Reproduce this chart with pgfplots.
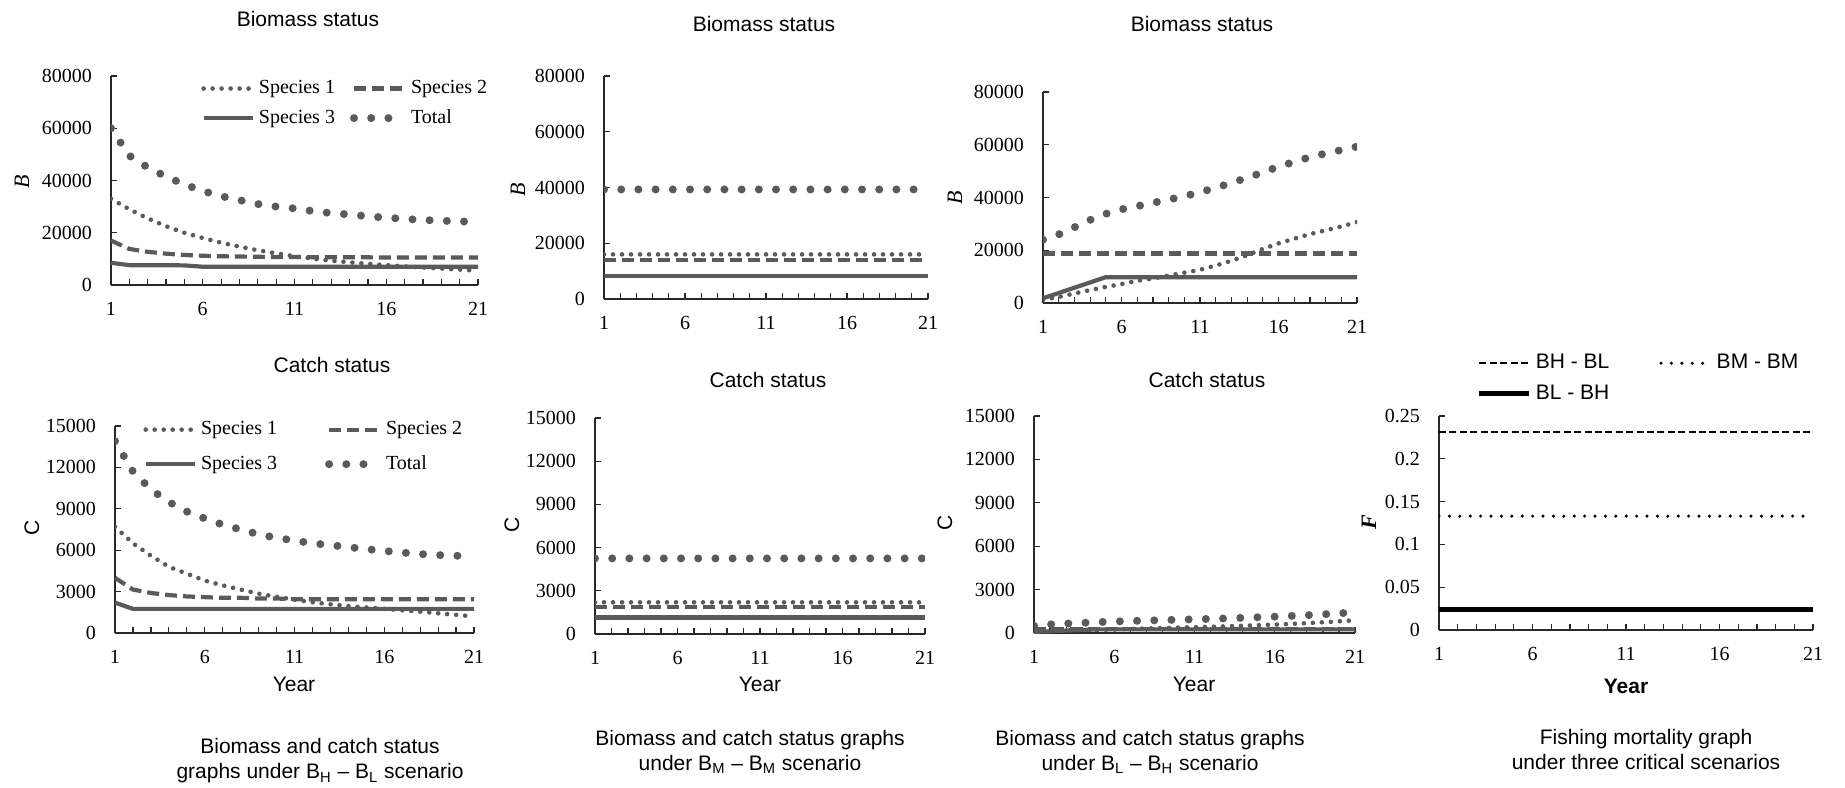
\documentclass[border=0pt]{standalone}
\usepackage{pgfplots}
\pgfplotsset{compat=1.18}
\usepackage{pgfplotstable}
\usepackage{fontspec}
\setmainfont{Liberation Serif}
\newfontfamily\sansf{Liberation Sans}
\newcommand\tkf{\fontsize{10}{12}\selectfont}
\newcommand\ssz{\sansf\fontsize{10.5}{12.5}\selectfont}
\definecolor{sg}{RGB}{90,90,90}
\definecolor{axc}{RGB}{40,40,40}

\pgfplotstableread{
x S1 S2 S3 T
1 33000 17000 8500 60000
2 29000 13800 7600 49500
3 25500 12700 7600 45000
4 22500 12000 7600 41500
5 20000 11500 7500 38500
6 18000 11200 7000 36000
7 16200 11000 7000 34000
8 14700 10900 7000 32500
9 13300 10800 7000 31000
10 12100 10700 7000 30000
11 11000 10700 7000 29300
12 10100 10600 7000 28300
13 9300 10600 7000 27500
14 8700 10600 7000 27000
15 8100 10600 7000 26300
16 7600 10500 7000 25800
17 7100 10500 7000 25300
18 6700 10500 7000 24900
19 6300 10500 7000 24600
20 5900 10500 7000 24400
21 5500 10500 7000 24000
}\bioA
\pgfplotstableread{
x S1 S2 S3 T
1 7700 4000 2200 13900
2 6500 3150 1750 11700
3 5600 2900 1750 10400
4 4800 2750 1750 9500
5 4300 2650 1750 8800
6 3800 2600 1750 8300
7 3450 2550 1750 7850
8 3150 2550 1750 7500
9 2850 2500 1750 7150
10 2620 2500 1750 6900
11 2420 2450 1750 6700
12 2230 2450 1750 6500
13 2080 2450 1750 6370
14 1950 2450 1750 6220
15 1850 2450 1750 6080
16 1750 2450 1750 5950
17 1650 2450 1750 5830
18 1550 2450 1750 5720
19 1430 2450 1750 5650
20 1320 2450 1750 5600
21 1200 2450 1750 5580
}\catA
\pgfplotstableread{
x S1 S2 S3 T
1 16000 14000 8200 39300
21 16000 14000 8200 39300
}\bioB
\pgfplotstableread{
x S1 S2 S3 T
1 2200 1900 1150 5250
21 2200 1900 1150 5250
}\catB
\pgfplotstableread{
x S1 S2 S3 T
1 1200 18800 1800 24000
2 2300 18800 3800 26000
3 3600 18800 5800 28700
4 4900 18800 7800 31500
5 6100 18800 9800 33800
6 7200 18800 9800 35500
7 8400 18800 9800 36700
8 9300 18800 9800 38000
9 10400 18800 9800 39200
10 11500 18800 9800 40500
11 12600 18800 9800 42000
12 14200 18800 9800 43700
13 16000 18800 9800 45500
14 18100 18800 9800 47500
15 20500 18800 9800 49500
16 22600 18800 9800 51700
17 24400 18800 9800 53500
18 26100 18800 9800 55300
19 27600 18800 9800 56700
20 29000 18800 9800 58000
21 30700 18800 9800 59300
}\bioC
\pgfplotstableread{
x S1 S2 S3 T
1 120 300 80 500
2 180 300 120 600
3 180 300 170 650
4 190 300 210 700
5 200 300 250 750
6 250 300 250 800
7 280 300 250 830
8 310 300 250 860
9 340 300 250 890
10 370 300 250 920
11 400 300 250 950
12 430 300 250 980
13 460 300 250 1010
14 500 300 250 1050
15 540 300 250 1090
16 580 300 250 1130
17 630 300 250 1180
18 680 300 250 1230
19 740 300 250 1290
20 810 300 250 1360
21 880 300 250 1430
}\catC
\pgfplotstableread{
x HL MM LH
1 0.231 0.133 0.024
21 0.231 0.133 0.024
}\Fdat

\pgfplotsset{
  base/.style={
    scale only axis, axis lines=left,
    axis line style={-, draw=axc, line width=0.8pt},
    xmin=1, xmax=21, xtick={1,6,11,16,21}, xticklabels={1,6,11,16,21},
    minor xtick={1,...,21},
    major tick length=3.2pt, minor tick length=3.2pt,
    tick style={draw=axc, line width=0.6pt},
    tick align=inside,
    ticklabel style={font=\tkf},
    xticklabel style={yshift=-5pt},
    yticklabel style={xshift=-6pt},
    anchor=south west,
    scaled ticks=false,
    /pgf/number format/assume math mode=true,
  },
  s1/.style={sg, mark=none, line width=2.3pt, line cap=round, dash pattern=on 0pt off 4.5pt},
  s2/.style={sg, mark=none, line width=2.1pt, dash pattern=on 6pt off 3pt},
  s3/.style={sg, mark=none, line width=2.1pt},
  tot/.style={sg, mark=none, line width=4pt, line cap=round, dash pattern=on 0pt off 8.6pt},
  bio/.style={base, ymin=0, ymax=80000, ytick={0,20000,40000,60000,80000},
    yticklabels={0,20000,40000,60000,80000}},
  cat/.style={base, ymin=0, ymax=15000, ytick={0,3000,6000,9000,12000,15000},
    yticklabels={0,3000,6000,9000,12000,15000}},
}

\begin{document}
\begin{tikzpicture}
\useasboundingbox (0,0) rectangle (922.5pt,-393.5pt);

% Panel 1 biomass
\begin{axis}[bio, at={(55.5pt,-142.5pt)}, width=183.5pt, height=104.5pt,
  legend columns=2, legend cell align=left,
  legend image code/.code={\draw[#1] (0pt,0pt) -- (24.5pt,0pt);},
  legend style={at={(rel axis cs:0.245,1.0)}, anchor=north west, draw=none, fill=none,
    inner sep=0pt, font=\tkf, row sep=2.5pt,
    /tikz/every even column/.append style={column sep=5.5pt}}]
\addplot[s1] table[x=x,y=S1]{\bioA}; \addlegendentry{Species 1}
\addplot[s2] table[x=x,y=S2]{\bioA}; \addlegendentry{Species 2}
\addplot[s3] table[x=x,y=S3]{\bioA}; \addlegendentry{Species 3}
\addplot[tot] table[x=x,y=T]{\bioA}; \addlegendentry{Total}
\end{axis}

% Panel 1 catch
\begin{axis}[cat, at={(57.5pt,-316.5pt)}, width=179.5pt, height=103.5pt,
  legend columns=2, legend cell align=left,
  legend image code/.code={\draw[#1] (0pt,0pt) -- (24.5pt,0pt);},
  legend style={at={(rel axis cs:0.078,1.043)}, anchor=north west, draw=none, fill=none,
    inner sep=0pt, font=\tkf, row sep=5pt,
    /tikz/every even column/.append style={column sep=22pt}}]
\addplot[s1] table[x=x,y=S1]{\catA}; \addlegendentry{Species 1}
\addplot[s2] table[x=x,y=S2]{\catA}; \addlegendentry{Species 2}
\addplot[s3] table[x=x,y=S3]{\catA}; \addlegendentry{Species 3}
\addplot[tot] table[x=x,y=T]{\catA}; \addlegendentry{Total}
\end{axis}

% Panel 2 biomass
\begin{axis}[bio, at={(302pt,-149.5pt)}, width=162pt, height=111.5pt]
\addplot[s1] table[x=x,y=S1]{\bioB};
\addplot[s2] table[x=x,y=S2]{\bioB};
\addplot[s3] table[x=x,y=S3]{\bioB};
\addplot[tot] table[x=x,y=T]{\bioB};
\end{axis}

% Panel 2 catch
\begin{axis}[cat, at={(297.5pt,-317pt)}, width=165pt, height=108pt]
\addplot[s1] table[x=x,y=S1]{\catB};
\addplot[s2] table[x=x,y=S2]{\catB};
\addplot[s3] table[x=x,y=S3]{\catB};
\addplot[tot] table[x=x,y=T]{\catB};
\end{axis}

% Panel 3 biomass
\begin{axis}[bio, at={(521.5pt,-151.5pt)}, width=157pt, height=105.5pt]
\addplot[s1] table[x=x,y=S1]{\bioC};
\addplot[s2] table[x=x,y=S2]{\bioC};
\addplot[s3] table[x=x,y=S3]{\bioC};
\addplot[tot] table[x=x,y=T]{\bioC};
\end{axis}

% Panel 3 catch
\begin{axis}[cat, at={(517pt,-316.5pt)}, width=160.5pt, height=108.5pt]
\addplot[s1] table[x=x,y=S1]{\catC};
\addplot[s2] table[x=x,y=S2]{\catC};
\addplot[s3] table[x=x,y=S3]{\catC};
\addplot[tot] table[x=x,y=T]{\catC};
\end{axis}

% Panel 4 fishing mortality
\begin{axis}[base, at={(719.5pt,-315pt)}, width=187pt, height=107pt,
  ymin=0, ymax=0.25, ytick={0,0.05,0.1,0.15,0.2,0.25},
  yticklabels={0,0.05,0.1,0.15,0.2,0.25},
  legend columns=2, legend cell align=left,
  legend image code/.code={\draw[#1] (0pt,0pt) -- (25pt,0pt);},
  legend style={at={(rel axis cs:0.10,1.308)}, anchor=north west, draw=none, fill=none,
    inner sep=0pt, font=\ssz, row sep=2.5pt,
    /tikz/every even column/.append style={column sep=23pt}}]
\addplot[black, mark=none, line width=1.2pt, dash pattern=on 3.5pt off 1.7pt] table[x=x,y=HL]{\Fdat};
\addlegendentry{BH - BL}
\addplot[black, mark=none, line width=1.7pt, line cap=round, dash pattern=on 0pt off 5.2pt] table[x=x,y=MM]{\Fdat};
\addlegendentry{BM - BM}
\addplot[black, mark=none, line width=2.5pt] table[x=x,y=LH]{\Fdat};
\addlegendentry{BL - BH}
\end{axis}

% titles
\node[font=\ssz] at (154pt,-9.5pt) {Biomass status};
\node[font=\ssz] at (382pt,-12pt) {Biomass status};
\node[font=\ssz] at (601pt,-12pt) {Biomass status};
\node[font=\ssz] at (166pt,-182.5pt) {Catch status};
\node[font=\ssz] at (384pt,-190pt) {Catch status};
\node[font=\ssz] at (603.5pt,-190pt) {Catch status};

% y labels
\node[rotate=90, font=\fontsize{11}{12}\selectfont\itshape] at (11pt,-91pt) {B};
\node[rotate=90, font=\fontsize{11}{12}\selectfont\itshape] at (259pt,-95pt) {B};
\node[rotate=90, font=\fontsize{11}{12}\selectfont\itshape] at (477.5pt,-99pt) {B};
\node[rotate=90, font=\ssz] at (16pt,-264pt) {C};
\node[rotate=90, font=\ssz] at (256pt,-262.5pt) {C};
\node[rotate=90, font=\ssz] at (472.5pt,-261.5pt) {C};
\node[rotate=90, font=\fontsize{11}{12}\selectfont\bfseries\itshape] at (684.5pt,-261pt) {F};

% x labels
\node[font=\ssz] at (147pt,-342pt) {Year};
\node[font=\ssz] at (380pt,-342pt) {Year};
\node[font=\ssz] at (597pt,-342pt) {Year};
\node[font=\ssz\bfseries] at (813pt,-343pt) {Year};

% captions
\node[font=\ssz, align=center] at (160pt,-380.5pt)
  {Biomass and catch status\\graphs under B\textsubscript{H} – B\textsubscript{L} scenario};
\node[font=\ssz, align=center] at (375pt,-376pt)
  {Biomass and catch status graphs\\under B\textsubscript{M} – B\textsubscript{M} scenario};
\node[font=\ssz, align=center] at (575pt,-376pt)
  {Biomass and catch status graphs\\under B\textsubscript{L} – B\textsubscript{H} scenario};
\node[font=\ssz, align=center] at (823pt,-374.5pt)
  {Fishing mortality graph\\under three critical scenarios};
\end{tikzpicture}
\end{document}
